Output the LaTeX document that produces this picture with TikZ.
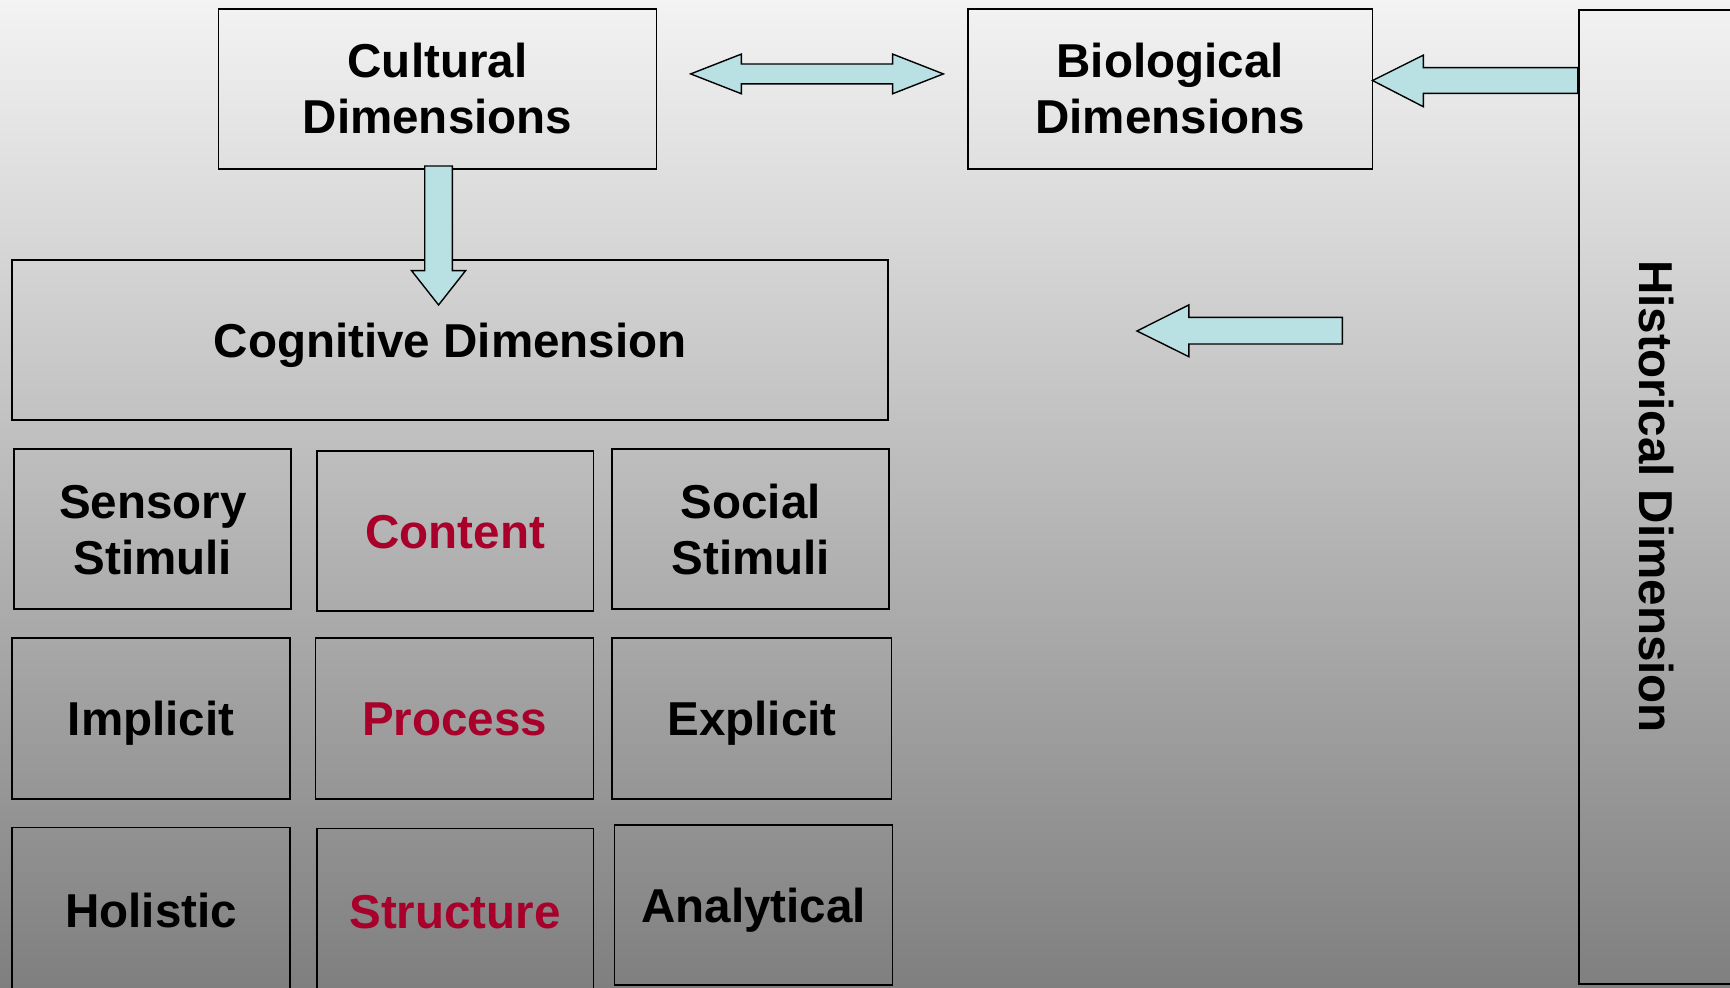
\documentclass[tikz,border=0pt]{standalone}
\usepackage{fontspec}
\setmainfont{Liberation Sans}
\definecolor{bgtop}{HTML}{F3F3F3}
\definecolor{bgbot}{HTML}{7F7F7F}
\definecolor{arrowfill}{HTML}{B9E0E3}
\definecolor{facetred}{HTML}{A8002A}
\tikzset{
  dimbox/.style={draw, line width=0.9pt, align=center, inner sep=0pt,
    text height=17pt, text depth=0pt,
    font=\bfseries\fontsize{23.7}{28}\selectfont},
  twoline/.style={text height=45pt, text depth=0pt},
  facet/.style={dimbox, text=facetred},
  blockarrow/.style={draw, fill=arrowfill, line width=0.7pt, line join=miter}
}
\begin{document}
\begin{tikzpicture}[x=0.55pt, y=-0.55pt]
\useasboundingbox (0, 0) rectangle (1568, 895);
\shade[top color=bgtop, bottom color=bgbot] (0, 0) rectangle (1568, 895);
% top row
\node[dimbox, twoline, minimum width=218.35pt, minimum height=79.75pt] (cult) at (396.5, 80.5) {Cultural\\Dimensions};
\node[dimbox, twoline, minimum width=201.85pt, minimum height=79.75pt] (bio) at (1060.5, 80.5) {Biological\\Dimensions};
\node[dimbox, minimum width=93.5pt, minimum height=485.65pt, anchor=north west] (hist) at (1430, 8) {};
\node[rotate=-90, inner sep=0pt, text height=17pt, text depth=0pt,
  font=\bfseries\fontsize{23.7}{28}\selectfont] (histlabel) at (1501.5, 450) {Historical Dimension};
% cognitive block
\node[dimbox, minimum width=436.7pt, minimum height=79.75pt] (cog) at (408, 308.5) {Cognitive Dimension};
\node[dimbox, twoline, minimum width=138.05pt, minimum height=79.75pt] (sens) at (138.5, 479.5) {Sensory\\Stimuli};
\node[facet, minimum width=138.05pt, minimum height=79.75pt] (cont) at (412.5, 481.5) {Content};
\node[dimbox, twoline, minimum width=138.05pt, minimum height=79.75pt] (soc) at (680.5, 479.5) {Social\\Stimuli};
\node[dimbox, minimum width=138.6pt, minimum height=80.3pt] (impl) at (137, 651) {Implicit};
\node[facet, minimum width=138.6pt, minimum height=80.3pt] (proc) at (412, 651) {Process};
\node[dimbox, minimum width=139.15pt, minimum height=80.3pt] (expl) at (681.5, 651) {Explicit};
\node[dimbox, minimum width=138.6pt, minimum height=82.5pt] (hol) at (137, 825) {Holistic};
\node[facet, minimum width=138.05pt, minimum height=82.5pt] (struct) at (412.5, 826) {Structure};
\node[dimbox, minimum width=138.6pt, minimum height=79.75pt] (anal) at (683, 820.5) {Analytical};
% block arrows
\draw[blockarrow] (626, 67) -- (672, 49) -- (672, 58) -- (809, 58) -- (809, 49) -- (855, 67)
  -- (809, 85) -- (809, 76) -- (672, 76) -- (672, 85) -- cycle;
\draw[blockarrow] (1244, 73) -- (1290, 50) -- (1290, 61.3) -- (1430, 61.3) -- (1430, 84.6)
  -- (1290, 84.6) -- (1290, 96.7) -- cycle;
\draw[blockarrow] (1030.5, 300) -- (1077.5, 276.4) -- (1077.5, 287.6) -- (1216.6, 287.6)
  -- (1216.6, 311.8) -- (1077.5, 311.8) -- (1077.5, 323.3) -- cycle;
\draw[blockarrow] (385, 150.5) -- (410, 150.5) -- (410, 245.3) -- (422, 245.3) -- (397.5, 276.4)
  -- (373, 245.3) -- (385, 245.3) -- cycle;
\end{tikzpicture}
\end{document}
